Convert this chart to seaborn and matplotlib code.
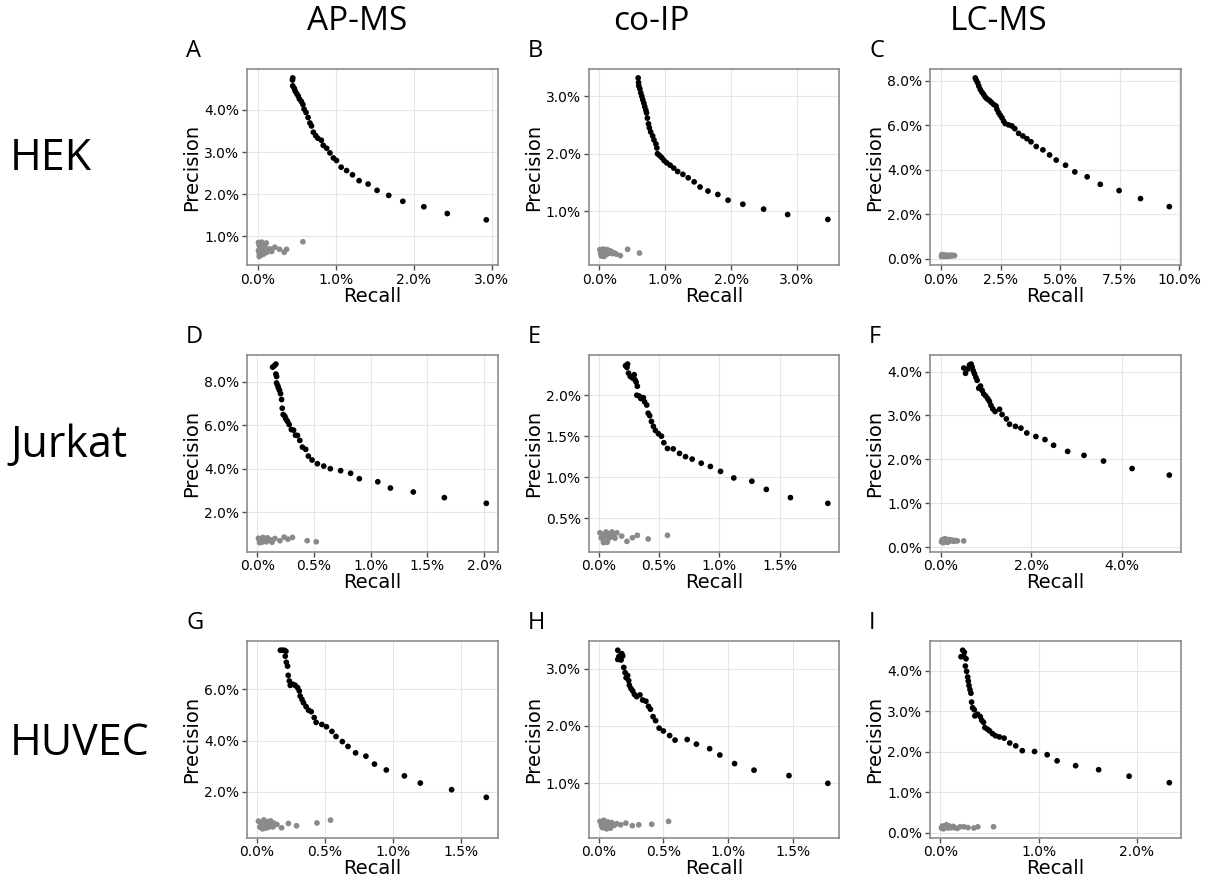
import pandas as pd
import matplotlib
matplotlib.use("Agg")
import matplotlib.pyplot as plt
import seaborn as sns
from matplotlib.ticker import PercentFormatter, MultipleLocator

# rows / columns of the grid
cell_lines = ["HEK", "Jurkat", "HUVEC"]
methods = ["AP-MS", "co-IP", "LC-MS"]
panel_letters = ["A", "B", "C", "D", "E", "F", "G", "H", "I"]

# (recall %, precision %)
# black = curve, grey = background cluster near the origin
hek_apms_hit = [(0.45, 4.76), (0.446, 4.71), (0.45, 4.57), (0.47, 4.51), (0.48, 4.45), (0.50, 4.39),
                (0.52, 4.33), (0.535, 4.26), (0.56, 4.20), (0.58, 4.13), (0.595, 4.02), (0.62, 3.94),
                (0.646, 3.82), (0.67, 3.69), (0.69, 3.62), (0.714, 3.47), (0.744, 3.39), (0.77, 3.33),
                (0.816, 3.28), (0.84, 3.16), (0.884, 3.09), (0.926, 2.98), (0.97, 2.86), (1.01, 2.80),
                (1.07, 2.64), (1.14, 2.56), (1.215, 2.46), (1.30, 2.32), (1.415, 2.24), (1.53, 2.09),
                (1.68, 1.97), (1.86, 1.83), (2.13, 1.70), (2.43, 1.54), (2.93, 1.39)]
hek_apms_bg = [(0.01, 0.85), (0.02, 0.78), (0.03, 0.72), (0.01, 0.66), (0.02, 0.60), (0.04, 0.55),
               (0.05, 0.63), (0.06, 0.70), (0.03, 0.81), (0.07, 0.76), (0.08, 0.58), (0.09, 0.66),
               (0.10, 0.73), (0.11, 0.84), (0.12, 0.62), (0.05, 0.86), (0.04, 0.68), (0.02, 0.52),
               (0.06, 0.57), (0.13, 0.68), (0.16, 0.70), (0.18, 0.64), (0.22, 0.74), (0.28, 0.69),
               (0.34, 0.62), (0.37, 0.69), (0.58, 0.87)]

hek_coip_hit = [(0.59, 3.32), (0.596, 3.24), (0.60, 3.18), (0.616, 3.13), (0.63, 3.06), (0.646, 3.00),
                (0.66, 2.94), (0.677, 2.88), (0.69, 2.82), (0.707, 2.76), (0.717, 2.71), (0.73, 2.62),
                (0.747, 2.52), (0.76, 2.45), (0.78, 2.38), (0.81, 2.31), (0.83, 2.24), (0.86, 2.17),
                (0.874, 2.10), (0.884, 2.00), (0.914, 1.97), (0.95, 1.93), (0.985, 1.88), (1.025, 1.84),
                (1.076, 1.80), (1.13, 1.75), (1.19, 1.69), (1.27, 1.64), (1.35, 1.58), (1.44, 1.51),
                (1.53, 1.42), (1.65, 1.35), (1.80, 1.29), (1.955, 1.19), (2.18, 1.12), (2.495, 1.035),
                (2.86, 0.94), (3.47, 0.855)]
hek_coip_bg = [(0.01, 0.33), (0.02, 0.27), (0.03, 0.22), (0.04, 0.30), (0.05, 0.25), (0.06, 0.34),
               (0.07, 0.21), (0.08, 0.29), (0.09, 0.32), (0.10, 0.24), (0.11, 0.28), (0.12, 0.33),
               (0.13, 0.26), (0.15, 0.31), (0.16, 0.27), (0.18, 0.30), (0.20, 0.26), (0.23, 0.27),
               (0.26, 0.25), (0.32, 0.225), (0.43, 0.335), (0.61, 0.27), (0.02, 0.31), (0.05, 0.22)]

hek_lcms_hit = [(1.44, 8.12), (1.48, 8.02), (1.54, 7.90), (1.59, 7.75), (1.65, 7.60), (1.72, 7.48),
                (1.79, 7.38), (1.86, 7.26), (1.93, 7.18), (2.03, 7.11), (2.11, 7.03), (2.21, 6.93),
                (2.31, 6.86), (2.35, 6.71), (2.42, 6.56), (2.49, 6.44), (2.56, 6.33), (2.63, 6.18),
                (2.70, 6.07), (2.84, 6.01), (2.98, 5.96), (3.10, 5.84), (3.26, 5.63), (3.44, 5.51),
                (3.61, 5.39), (3.78, 5.25), (4.00, 5.04), (4.28, 4.89), (4.56, 4.66), (4.84, 4.43),
                (5.23, 4.20), (5.62, 3.90), (6.14, 3.68), (6.69, 3.34), (7.48, 3.06), (8.38, 2.70),
                (9.59, 2.34)]
hek_lcms_bg = [(0.02, 0.10), (0.05, 0.15), (0.08, 0.12), (0.10, 0.18), (0.13, 0.10), (0.16, 0.14),
               (0.20, 0.11), (0.23, 0.16), (0.27, 0.13), (0.30, 0.10), (0.34, 0.15), (0.38, 0.12),
               (0.42, 0.16), (0.47, 0.13), (0.52, 0.15), (0.57, 0.14), (0.03, 0.18), (0.12, 0.13)]

jurkat_apms_hit = [(0.135, 8.67), (0.15, 8.73), (0.164, 8.81), (0.164, 8.35), (0.17, 8.24), (0.17, 7.94),
                   (0.18, 7.82), (0.187, 7.71), (0.196, 7.60), (0.205, 7.45), (0.214, 7.18), (0.22, 6.78),
                   (0.228, 6.49), (0.243, 6.41), (0.252, 6.29), (0.266, 6.18), (0.281, 6.03), (0.30, 5.80),
                   (0.32, 5.77), (0.337, 5.54), (0.354, 5.53), (0.375, 5.30), (0.398, 4.99), (0.427, 4.89),
                   (0.45, 4.58), (0.483, 4.40), (0.53, 4.23), (0.586, 4.12), (0.644, 4.00), (0.735, 3.91),
                   (0.823, 3.79), (0.90, 3.54), (1.063, 3.40), (1.174, 3.11), (1.376, 2.93), (1.65, 2.67),
                   (2.02, 2.41)]
jurkat_apms_bg = [(0.01, 0.80), (0.02, 0.68), (0.03, 0.74), (0.04, 0.62), (0.05, 0.84), (0.06, 0.70),
                  (0.07, 0.78), (0.08, 0.64), (0.09, 0.82), (0.10, 0.72), (0.02, 0.60), (0.05, 0.66),
                  (0.12, 0.72), (0.155, 0.79), (0.20, 0.69), (0.237, 0.855), (0.27, 0.76), (0.31, 0.84),
                  (0.44, 0.69), (0.52, 0.64), (0.08, 0.76), (0.13, 0.62)]

jurkat_coip_hit = [(0.222, 2.36), (0.239, 2.38), (0.234, 2.34), (0.247, 2.27), (0.261, 2.23), (0.28, 2.21),
                   (0.294, 2.25), (0.30, 2.19), (0.31, 2.16), (0.32, 2.11), (0.316, 2.00), (0.335, 1.99),
                   (0.349, 1.96), (0.37, 1.97), (0.38, 1.92), (0.398, 1.88), (0.41, 1.78), (0.423, 1.75),
                   (0.437, 1.68), (0.453, 1.62), (0.47, 1.57), (0.495, 1.53), (0.52, 1.50), (0.54, 1.42),
                   (0.57, 1.35), (0.618, 1.345), (0.67, 1.29), (0.72, 1.25), (0.775, 1.22), (0.85, 1.17),
                   (0.926, 1.13), (1.01, 1.07), (1.12, 0.99), (1.27, 0.95), (1.39, 0.85), (1.59, 0.75),
                   (1.90, 0.68)]
jurkat_coip_bg = [(0.01, 0.32), (0.02, 0.26), (0.03, 0.30), (0.04, 0.22), (0.05, 0.28), (0.06, 0.33),
                  (0.07, 0.205), (0.08, 0.25), (0.09, 0.31), (0.10, 0.27), (0.11, 0.33), (0.12, 0.29),
                  (0.135, 0.255), (0.15, 0.32), (0.19, 0.28), (0.234, 0.215), (0.28, 0.26), (0.32, 0.29),
                  (0.41, 0.245), (0.57, 0.29), (0.04, 0.20), (0.07, 0.30)]

jurkat_lcms_hit = [(0.513, 4.08), (0.55, 3.96), (0.60, 4.06), (0.637, 4.15), (0.674, 4.17), (0.696, 4.10),
                   (0.72, 4.02), (0.747, 3.95), (0.777, 3.87), (0.806, 3.80), (0.842, 3.62), (0.88, 3.67),
                   (0.916, 3.57), (0.952, 3.49), (0.996, 3.44), (1.04, 3.38), (1.077, 3.32), (1.11, 3.23),
                   (1.15, 3.15), (1.20, 3.09), (1.30, 3.14), (1.355, 3.02), (1.45, 2.92), (1.52, 2.80),
                   (1.65, 2.75), (1.77, 2.71), (1.90, 2.60), (2.10, 2.52), (2.30, 2.45), (2.49, 2.32),
                   (2.80, 2.18), (3.16, 2.09), (3.59, 1.96), (4.22, 1.79), (5.04, 1.64)]
jurkat_lcms_bg = [(0.02, 0.12), (0.04, 0.17), (0.06, 0.10), (0.08, 0.15), (0.10, 0.19), (0.12, 0.12),
                  (0.14, 0.16), (0.16, 0.11), (0.19, 0.17), (0.22, 0.14), (0.25, 0.16), (0.29, 0.13),
                  (0.33, 0.15), (0.37, 0.14), (0.51, 0.14), (0.05, 0.14), (0.09, 0.12)]

huvec_apms_hit = [(0.171, 7.53), (0.183, 7.53), (0.20, 7.53), (0.212, 7.49), (0.207, 7.30), (0.215, 7.06),
                  (0.224, 6.91), (0.229, 6.55), (0.237, 6.33), (0.244, 6.16), (0.263, 6.20), (0.28, 6.16),
                  (0.298, 6.07), (0.31, 5.94), (0.317, 5.74), (0.33, 5.61), (0.341, 5.48), (0.36, 5.33),
                  (0.378, 5.19), (0.398, 5.13), (0.42, 4.90), (0.434, 4.71), (0.476, 4.63), (0.51, 4.54),
                  (0.55, 4.36), (0.58, 4.16), (0.627, 3.96), (0.668, 3.77), (0.724, 3.52), (0.80, 3.39),
                  (0.863, 3.08), (0.95, 2.85), (1.083, 2.62), (1.20, 2.34), (1.43, 2.08), (1.685, 1.78)]
huvec_apms_bg = [(0.01, 0.85), (0.02, 0.62), (0.03, 0.74), (0.04, 0.55), (0.05, 0.90), (0.06, 0.68),
                 (0.07, 0.80), (0.08, 0.60), (0.09, 0.72), (0.10, 0.86), (0.11, 0.64), (0.12, 0.78),
                 (0.117, 0.63), (0.146, 0.72), (0.18, 0.59), (0.23, 0.76), (0.29, 0.67), (0.44, 0.78),
                 (0.54, 0.89), (0.03, 0.66), (0.06, 0.58), (0.08, 0.83)]

huvec_coip_hit = [(0.148, 3.32), (0.156, 3.21), (0.148, 3.16), (0.168, 3.23), (0.179, 3.26), (0.186, 3.22),
                  (0.173, 3.15), (0.194, 3.02), (0.204, 2.93), (0.212, 2.84), (0.224, 2.88), (0.232, 2.79),
                  (0.237, 2.71), (0.25, 2.65), (0.263, 2.61), (0.276, 2.55), (0.293, 2.51), (0.319, 2.54),
                  (0.34, 2.45), (0.365, 2.43), (0.385, 2.34), (0.40, 2.29), (0.42, 2.16), (0.44, 2.09),
                  (0.467, 1.96), (0.50, 1.91), (0.548, 1.83), (0.59, 1.75), (0.684, 1.76), (0.755, 1.68),
                  (0.857, 1.60), (0.936, 1.49), (1.05, 1.34), (1.20, 1.225), (1.47, 1.13), (1.77, 0.995)]
huvec_coip_bg = [(0.01, 0.33), (0.02, 0.26), (0.03, 0.22), (0.04, 0.35), (0.05, 0.29), (0.06, 0.24),
                 (0.07, 0.32), (0.08, 0.27), (0.09, 0.21), (0.10, 0.31), (0.12, 0.26), (0.14, 0.29),
                 (0.17, 0.27), (0.21, 0.30), (0.26, 0.255), (0.31, 0.27), (0.41, 0.28), (0.54, 0.33),
                 (0.03, 0.30), (0.06, 0.20)]

huvec_lcms_hit = [(0.209, 4.35), (0.226, 4.51), (0.243, 4.46), (0.236, 4.36), (0.26, 4.30), (0.253, 4.12),
                  (0.266, 3.99), (0.277, 3.85), (0.283, 3.75), (0.29, 3.64), (0.30, 3.54), (0.31, 3.45),
                  (0.317, 3.23), (0.327, 3.09), (0.344, 3.04), (0.35, 2.89), (0.378, 2.93), (0.405, 2.87),
                  (0.42, 2.78), (0.438, 2.73), (0.452, 2.60), (0.479, 2.56), (0.50, 2.52), (0.53, 2.45),
                  (0.56, 2.40), (0.60, 2.37), (0.648, 2.34), (0.705, 2.22), (0.766, 2.15), (0.833, 2.03),
                  (0.958, 2.01), (1.086, 1.93), (1.187, 1.78), (1.376, 1.66), (1.61, 1.56), (1.92, 1.40),
                  (2.33, 1.24)]
huvec_lcms_bg = [(0.01, 0.12), (0.02, 0.17), (0.03, 0.10), (0.05, 0.15), (0.06, 0.20), (0.08, 0.12),
                 (0.09, 0.17), (0.11, 0.13), (0.13, 0.16), (0.14, 0.13), (0.17, 0.11), (0.20, 0.15),
                 (0.24, 0.15), (0.28, 0.13), (0.34, 0.12), (0.38, 0.15), (0.54, 0.15), (0.04, 0.12)]

panels = [
    [(hek_apms_hit, hek_apms_bg), (hek_coip_hit, hek_coip_bg), (hek_lcms_hit, hek_lcms_bg)],
    [(jurkat_apms_hit, jurkat_apms_bg), (jurkat_coip_hit, jurkat_coip_bg), (jurkat_lcms_hit, jurkat_lcms_bg)],
    [(huvec_apms_hit, huvec_apms_bg), (huvec_coip_hit, huvec_coip_bg), (huvec_lcms_hit, huvec_lcms_bg)],
]

# tick spacing per panel (percent units)
x_steps = [[1, 1, 2.5], [0.5, 0.5, 2], [0.5, 0.5, 1]]
y_steps = [[1, 1, 2], [2, 0.5, 1], [2, 1, 1]]


def make_df(hit, bg):
    d_bg = pd.DataFrame(bg, columns=["Recall", "Precision"])
    d_bg["set"] = "bg"
    d_hit = pd.DataFrame(hit, columns=["Recall", "Precision"])
    d_hit["set"] = "hit"
    return pd.concat([d_bg, d_hit], ignore_index=True)


sns.set_style("whitegrid", {"axes.edgecolor": "0.55", "grid.color": "0.9",
                            "xtick.bottom": True, "ytick.left": True})
plt.rcParams["font.family"] = ["DejaVu Sans"]
plt.rcParams.update({"text.color": "black", "axes.labelcolor": "black",
                     "xtick.color": "black", "ytick.color": "black"})

fig, axes = plt.subplots(3, 3, figsize=(12.11, 8.8), dpi=100)
fig.subplots_adjust(left=0.204, right=0.975, bottom=0.048, top=0.9216,
                    wspace=0.3625, hspace=0.457)

for i in range(3):
    for j in range(3):
        ax = axes[i, j]
        hit, bg = panels[i][j]
        df = make_df(hit, bg)
        sns.scatterplot(data=df, x="Recall", y="Precision", hue="set",
                        palette={"bg": "#8a8a8a", "hit": "black"},
                        s=17, linewidth=0, legend=False, ax=ax)
        ax.xaxis.set_major_locator(MultipleLocator(x_steps[i][j]))
        ax.yaxis.set_major_locator(MultipleLocator(y_steps[i][j]))
        ax.xaxis.set_major_formatter(PercentFormatter(decimals=1))
        ax.yaxis.set_major_formatter(PercentFormatter(decimals=1))
        ax.tick_params(labelsize=10, length=3.5, width=1, color="0.3", pad=2)
        ax.set_xlabel("Recall", fontsize=14, labelpad=0)
        ax.set_ylabel("Precision", fontsize=14, labelpad=2)
        for sp in ax.spines.values():
            sp.set_linewidth(1.2)
        ax.grid(color="0.9", linewidth=0.8)
        ax.text(-0.243, 1.063, panel_letters[i * 3 + j], transform=ax.transAxes,
                fontsize=17, family="Open Sans", ha="left", va="baseline")

# column headers
for x, m in zip([357, 651, 999], methods):
    fig.text(x / 1211, 1 - 30 / 880, m, fontsize=24, family="Open Sans",
             ha="center", va="baseline")

# row labels
for y, c in zip([170, 457, 755], cell_lines):
    fig.text(10 / 1211, 1 - y / 880, c, fontsize=31, family="Open Sans",
             ha="left", va="baseline")

fig.savefig("out.png", dpi=100)
